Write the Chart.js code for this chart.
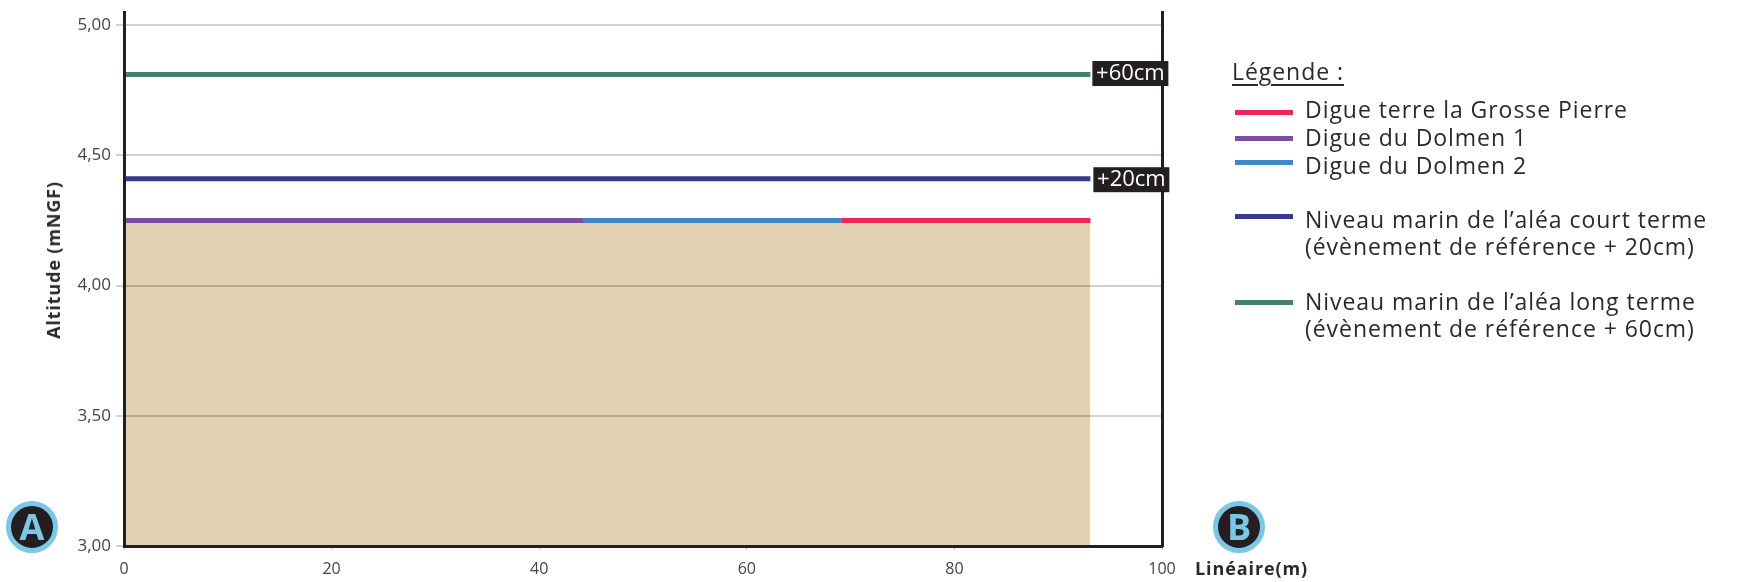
<!DOCTYPE html>
<html lang="fr"><head><meta charset="utf-8">
<script src="https://cdn.jsdelivr.net/npm/chart.js@4"></script>
<style>
html,body{margin:0;padding:0;background:#fff}
#wrap{position:relative;width:1738px;height:582px;overflow:hidden;font-family:"Open Sans",sans-serif;color:#2b2a29}
canvas{position:absolute;left:0;top:0}
.t{position:absolute;white-space:nowrap;font-size:23px;line-height:27px;letter-spacing:.95px}
.s{position:absolute;left:1235px;width:58px;height:5px}
.c{position:absolute;top:501px;width:42px;height:42px;border:5px solid #7cc6e8;border-radius:50%;background:#231f20;color:#7cc6e8;font:bold 36px/42px "Open Sans",sans-serif;text-align:center}
#ytitle{position:absolute;left:53px;top:260px;transform:translate(-50%,-50%) rotate(-90deg);font:bold 18px/24px "Open Sans",sans-serif;letter-spacing:.85px;white-space:nowrap}
</style></head><body>
<div id="wrap">
<canvas id="c" width="1738" height="582"></canvas>
<div class="t" style="left:1232px;top:58px;text-decoration:underline;text-underline-offset:4px">Légende :</div>
<div id="legend"></div>
<div class="c" style="left:6px">A</div>
<div class="c" style="left:1213px">B</div>
<div id="ytitle">Altitude (mNGF)</div>
<div class="t" style="left:1195px;top:555px;font:bold 18px/27px 'Open Sans',sans-serif;letter-spacing:.9px">Linéaire(m)</div>
</div>
<script>
const xTicks = [0, 20, 40, 60, 80, 100];
const yTicks = [3, 3.5, 4, 4.5, 5];
const yTickLabels = ["3,00", "3,50", "4,00", "4,50", "5,00"];
const digueEnd = 93.1;
const digueLevel = 4.25;
const dolmen1X = [0, 44.3];
const dolmen2X = [44.3, 69.1];
const grossePierreX = [69.1, 93.1];
const courtTermeLevel = 4.41;
const longTermeLevel = 4.81;
const levelLabels = ["+20cm", "+60cm"];
const colors = {pierre:"#ec2458", d1:"#7b4f9d", d2:"#3f87c9", court:"#38388f", long:"#47806f", sol:"#e2d1b2"};
const legendItems = [
  {text:"Digue terre la Grosse Pierre", color:colors.pierre, sy:112, ty:96},
  {text:"Digue du Dolmen 1", color:colors.d1, sy:138, ty:124},
  {text:"Digue du Dolmen 2", color:colors.d2, sy:162, ty:152},
  {text:"Niveau marin de l’aléa court terme<br>(évènement de référence + 20cm)", color:colors.court, sy:216, ty:206},
  {text:"Niveau marin de l’aléa long terme<br>(évènement de référence + 60cm)", color:colors.long, sy:302, ty:288}
];
const lg = document.getElementById("legend");
legendItems.forEach(i=>{
  lg.insertAdjacentHTML("beforeend",`<div class="s" style="top:${i.sy-2}px;background:${i.color}"></div><div class="t" style="left:1305px;top:${i.ty}px">${i.text}</div>`);
});
const flat = (xs,y)=>xs.map(x=>({x,y}));
const line = (label,data,color,extra)=>Object.assign({label,data,borderColor:color,borderWidth:5,pointRadius:0,borderCapStyle:"butt",fill:false},extra||{});
const FONT = '"Open Sans",sans-serif';
const tagPlugin = {id:"tags",afterDraw(ch){
  const c=ch.ctx,x=ch.scales.x,y=ch.scales.y;
  [[courtTermeLevel,levelLabels[0],3],[longTermeLevel,levelLabels[1],2]].forEach(([v,t,dx])=>{
    const px=x.getPixelForValue(digueEnd)+dx, py=y.getPixelForValue(v)+(v===longTermeLevel?-1:1);
    c.save();c.fillStyle="#231f20";c.fillRect(px,py-12.5,76,25);
    c.fillStyle="#fff";c.font='22px '+FONT;c.textBaseline="middle";c.textAlign="center";
    c.fillText(t,px+38,py);c.restore();
  });
}};
new Chart(document.getElementById("c"),{
  type:"line",
  data:{datasets:[
    line("Sol",flat([0,digueEnd],digueLevel),"rgba(0,0,0,0)",{borderWidth:0,fill:"start",backgroundColor:colors.sol,order:5}),
    line("Digue du Dolmen 1",flat(dolmen1X,digueLevel),colors.d1),
    line("Digue du Dolmen 2",flat(dolmen2X,digueLevel),colors.d2),
    line("Digue terre la Grosse Pierre",flat(grossePierreX,digueLevel),colors.pierre),
    line("Niveau marin de l’aléa court terme",flat([0,digueEnd],courtTermeLevel),colors.court),
    line("Niveau marin de l’aléa long terme",flat([0,digueEnd],longTermeLevel),colors.long)
  ]},
  plugins:[tagPlugin],
  options:{
    responsive:false,animation:false,
    layout:{autoPadding:false,padding:{left:0,right:576,top:12,bottom:0}},
    plugins:{legend:{display:false},tooltip:{enabled:false},title:{display:false}},
    scales:{
      x:{type:"linear",min:0,max:100,
        afterBuildTicks(a){a.ticks=xTicks.map(value=>({value}))},
        afterFit(a){a.height=36;a.paddingLeft=0;a.paddingRight=0},
        grid:{drawOnChartArea:false,drawTicks:true,tickLength:4,color:"#bdbdbd"},
        border:{color:"#231f20",width:3,z:2},
        ticks:{color:"#444",font:{family:FONT,size:16},padding:10,maxRotation:0}},
      y:{type:"linear",min:3,max:5.05,
        afterBuildTicks(a){a.ticks=yTicks.map(value=>({value}))},
        afterFit(a){a.width=124;a.paddingTop=0;a.paddingBottom=0},
        grid:{color:"rgba(0,0,0,0.18)",lineWidth:2,tickLength:8,z:1},
        border:{color:"#231f20",width:3,z:2},
        ticks:{color:"#444",font:{family:FONT,size:17},padding:5,callback:v=>yTickLabels[yTicks.indexOf(v)]}},
      y2:{type:"linear",position:"right",min:3,max:5.05,
        afterFit(a){a.width=0;a.paddingTop=0;a.paddingBottom=0},
        grid:{drawOnChartArea:false,drawTicks:false},
        border:{color:"#231f20",width:3,z:2},
        ticks:{display:false}}
    }
  }
});
</script>
</body></html>
